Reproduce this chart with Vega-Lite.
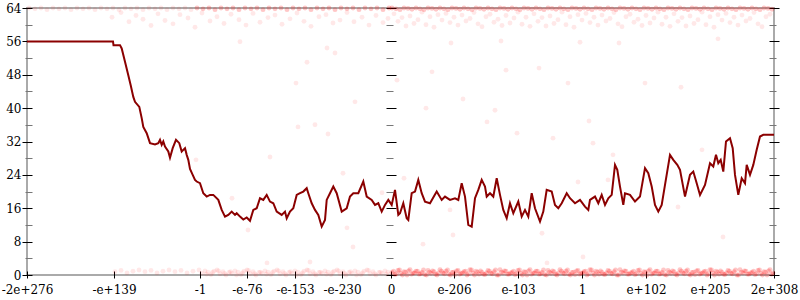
{
  "$schema": "https://vega.github.io/schema/vega-lite/v6.json",
  "width": 747,
  "height": 267,
  "autosize": {"type": "none"},
  "padding": {"left": 27, "top": 8, "right": 26, "bottom": 25},
  "background": "white",
  "config": {
    "view": {"stroke": "#aaaaaa", "strokeWidth": 2},
    "axis": {"labelFont": "DejaVu Serif", "labelFontSize": 12, "labelColor": "#000", "grid": false, "domain": false}
  },
  "datasets": {
    "line": [
      {"x":-364,"y":56},{"x":-278,"y":56},{"x":-277.5,"y":55.1},{"x":-271,"y":55.1},{"x":-269.3,"y":54.3},{"x":-266,"y":51.1},{"x":-262.7,"y":47.9},{"x":-260.3,"y":45.5},{"x":-257.7,"y":42.7},{"x":-256,"y":41.5},{"x":-251.7,"y":40.3},{"x":-249.3,"y":37.6},{"x":-247.7,"y":35.5},{"x":-244.3,"y":34},{"x":-241,"y":31.6},{"x":-236,"y":31.3},{"x":-232.7,"y":31.6},{"x":-231,"y":32.4},{"x":-229.3,"y":31.2},{"x":-227.7,"y":32},{"x":-226,"y":30.8},{"x":-222.7,"y":29.6},{"x":-221,"y":28.1},{"x":-218.3,"y":30.4},{"x":-215,"y":32.4},{"x":-211.7,"y":31.6},{"x":-209.3,"y":29.6},{"x":-207.7,"y":30},{"x":-206,"y":30.4},{"x":-204.3,"y":28.8},{"x":-202.7,"y":27.6},{"x":-201,"y":25.4},{"x":-198.3,"y":24},{"x":-196,"y":22.8},{"x":-194.3,"y":22.4},{"x":-191,"y":22},{"x":-187.7,"y":19.6},{"x":-184.3,"y":18.8},{"x":-181,"y":19.2},{"x":-177.7,"y":19.2},{"x":-172.7,"y":18},{"x":-169.3,"y":15.6},{"x":-166,"y":14},{"x":-162.7,"y":14.4},{"x":-159.3,"y":15.2},{"x":-156,"y":14.4},{"x":-154.3,"y":14.8},{"x":-151,"y":14},{"x":-147.7,"y":13.3},{"x":-144.3,"y":13.8},{"x":-141,"y":13},{"x":-137.7,"y":15.6},{"x":-134.3,"y":16},{"x":-131,"y":18.4},{"x":-127.7,"y":18},{"x":-124.3,"y":19.2},{"x":-121,"y":17.6},{"x":-117.7,"y":17.2},{"x":-114.3,"y":15.2},{"x":-109.3,"y":14.4},{"x":-106,"y":15.2},{"x":-104.3,"y":13.6},{"x":-101,"y":15.2},{"x":-97.7,"y":16},{"x":-94.3,"y":19.2},{"x":-91,"y":19.6},{"x":-87.7,"y":20},{"x":-84.3,"y":20.8},{"x":-82.7,"y":19.6},{"x":-79.3,"y":17.2},{"x":-76,"y":15.6},{"x":-72.7,"y":14.4},{"x":-69.3,"y":11.6},{"x":-66,"y":13.2},{"x":-64.3,"y":18},{"x":-61,"y":19.6},{"x":-57.7,"y":21.2},{"x":-54.3,"y":19.6},{"x":-49.3,"y":15.2},{"x":-44.3,"y":16},{"x":-41,"y":18.8},{"x":-37.7,"y":19.6},{"x":-32.7,"y":19.6},{"x":-27.7,"y":22.4},{"x":-24.3,"y":18.8},{"x":-19.3,"y":18},{"x":-16,"y":16.8},{"x":-12.7,"y":17.2},{"x":-9.3,"y":15.2},{"x":-6,"y":16.8},{"x":-2.7,"y":18},{"x":0.7,"y":16.8},{"x":4,"y":20.4},{"x":7.3,"y":14.4},{"x":9,"y":14.8},{"x":12.3,"y":17.2},{"x":15.7,"y":13.6},{"x":17.3,"y":13.2},{"x":20.7,"y":19.6},{"x":24,"y":20},{"x":27.3,"y":22.8},{"x":30.7,"y":19.6},{"x":34,"y":17.6},{"x":39,"y":17.2},{"x":45.7,"y":20},{"x":50.7,"y":18},{"x":54,"y":18.8},{"x":59,"y":18},{"x":64,"y":18.4},{"x":67.3,"y":18},{"x":70.7,"y":22},{"x":74,"y":18.8},{"x":77.3,"y":12},{"x":80.7,"y":11.6},{"x":84,"y":18.4},{"x":87.3,"y":20.4},{"x":90.7,"y":22.8},{"x":94,"y":21.2},{"x":95.7,"y":18.8},{"x":99,"y":19.6},{"x":102.3,"y":18.8},{"x":105.7,"y":23.2},{"x":109,"y":19.2},{"x":112.3,"y":15.6},{"x":115.7,"y":13.6},{"x":119,"y":17.2},{"x":122.3,"y":14.8},{"x":127.3,"y":17.6},{"x":130.7,"y":14},{"x":134,"y":15.6},{"x":137.3,"y":14},{"x":140.7,"y":19.6},{"x":144,"y":16},{"x":149,"y":12.8},{"x":152.3,"y":15.2},{"x":155.7,"y":20.4},{"x":160.7,"y":20},{"x":164,"y":16.8},{"x":167.3,"y":16},{"x":170.7,"y":17.2},{"x":175.7,"y":19.6},{"x":179,"y":18.4},{"x":184,"y":17.2},{"x":189,"y":18},{"x":194,"y":16.4},{"x":197.3,"y":15.6},{"x":199,"y":18},{"x":204,"y":18.8},{"x":207.3,"y":17.2},{"x":210.7,"y":19.2},{"x":214,"y":16.8},{"x":217.3,"y":18.4},{"x":220.7,"y":19.2},{"x":224,"y":26.4},{"x":226.3,"y":25.2},{"x":229,"y":21.2},{"x":232.3,"y":16.8},{"x":234,"y":19.6},{"x":239,"y":19.2},{"x":244,"y":17.6},{"x":249,"y":18.8},{"x":254,"y":25.6},{"x":257.3,"y":24.4},{"x":260.7,"y":21.2},{"x":264,"y":16.8},{"x":267.3,"y":15.2},{"x":270.7,"y":16.8},{"x":274,"y":21.6},{"x":279,"y":28.8},{"x":282.3,"y":27.6},{"x":286.3,"y":26.4},{"x":289,"y":25.2},{"x":294,"y":18.8},{"x":299,"y":24},{"x":302.3,"y":24.8},{"x":305.7,"y":22},{"x":309,"y":19.2},{"x":314,"y":21.6},{"x":319,"y":26.8},{"x":322.3,"y":26},{"x":325,"y":28.8},{"x":327.3,"y":26.8},{"x":329.7,"y":27.6},{"x":332.3,"y":24.8},{"x":335,"y":32},{"x":339,"y":32.8},{"x":341.7,"y":30.4},{"x":344,"y":24},{"x":347.3,"y":19.2},{"x":350.7,"y":23.2},{"x":354,"y":22},{"x":355.7,"y":26.4},{"x":359,"y":24},{"x":362.3,"y":26.4},{"x":365.7,"y":30},{"x":369,"y":33.2},{"x":372.3,"y":33.6},{"x":383,"y":33.6}
    ],
    "pts": [
      {"x":-362,"y":64},{"x":-356,"y":63.8},{"x":-350,"y":64},{"x":-344,"y":63.6},{"x":-338,"y":64},{"x":-332,"y":63.8},{"x":-326,"y":64},{"x":-320,"y":63.6},{"x":-314,"y":64},{"x":-308,"y":63.8},{"x":-302,"y":64},{"x":-296,"y":63.6},{"x":-290,"y":64},{"x":-284,"y":63.8},{"x":-278,"y":64},{"x":-272,"y":63.6},{"x":-266,"y":64},{"x":-260,"y":63.8},{"x":-254,"y":64},{"x":-248,"y":63.6},{"x":-242,"y":64},{"x":-236,"y":63.8},{"x":-230,"y":64},{"x":-224,"y":63.6},{"x":-218,"y":64},{"x":-212,"y":63.8},{"x":-206,"y":64},{"x":-200,"y":63.6},{"x":-194,"y":64},{"x":-188,"y":63.8},{"x":-182,"y":64},{"x":-176,"y":63.6},{"x":-170,"y":64},{"x":-164,"y":63.8},{"x":-158,"y":64},{"x":-152,"y":63.6},{"x":-146,"y":64},{"x":-140,"y":63.8},{"x":-134,"y":64},{"x":-128,"y":63.6},{"x":-122,"y":64},{"x":-116,"y":63.8},{"x":-110,"y":64},{"x":-104,"y":63.6},{"x":-98,"y":64},{"x":-92,"y":63.8},{"x":-86,"y":64},{"x":-80,"y":63.6},{"x":-74,"y":64},{"x":-68,"y":63.8},{"x":-62,"y":64},{"x":-56,"y":63.6},{"x":-50,"y":64},{"x":-44,"y":63.8},{"x":-38,"y":64},{"x":-32,"y":63.6},{"x":-26,"y":64},{"x":-20,"y":63.8},{"x":-14,"y":64},{"x":-8,"y":63.6},{"x":-2,"y":64},
      {"x":1,"y":64},{"x":5,"y":63.8},{"x":9,"y":63.6},{"x":13,"y":64},{"x":17,"y":63.9},{"x":21,"y":63.7},{"x":25,"y":64},{"x":29,"y":63.8},{"x":33,"y":63.6},{"x":37,"y":64},{"x":41,"y":63.9},{"x":45,"y":63.7},{"x":49,"y":64},{"x":53,"y":63.8},{"x":57,"y":63.6},{"x":61,"y":64},{"x":65,"y":63.9},{"x":69,"y":63.7},{"x":73,"y":64},{"x":77,"y":63.8},{"x":81,"y":63.6},{"x":85,"y":64},{"x":89,"y":63.9},{"x":93,"y":63.7},{"x":97,"y":64},{"x":101,"y":63.8},{"x":105,"y":63.6},{"x":109,"y":64},{"x":113,"y":63.9},{"x":117,"y":63.7},{"x":121,"y":64},{"x":125,"y":63.8},{"x":129,"y":63.6},{"x":133,"y":64},{"x":137,"y":63.9},{"x":141,"y":63.7},{"x":145,"y":64},{"x":149,"y":63.8},{"x":153,"y":63.6},{"x":157,"y":64},{"x":161,"y":63.9},{"x":165,"y":63.7},{"x":169,"y":64},{"x":173,"y":63.8},{"x":177,"y":63.6},{"x":181,"y":64},{"x":185,"y":63.9},{"x":189,"y":63.7},{"x":193,"y":64},{"x":197,"y":63.8},{"x":201,"y":63.6},{"x":205,"y":64},{"x":209,"y":63.9},{"x":213,"y":63.7},{"x":217,"y":64},{"x":221,"y":63.8},{"x":225,"y":63.6},{"x":229,"y":64},{"x":233,"y":63.9},{"x":237,"y":63.7},{"x":241,"y":64},{"x":245,"y":63.8},{"x":249,"y":63.6},{"x":253,"y":64},{"x":257,"y":63.9},{"x":261,"y":63.7},{"x":265,"y":64},{"x":269,"y":63.8},{"x":273,"y":63.6},{"x":277,"y":64},{"x":281,"y":63.9},{"x":285,"y":63.7},{"x":289,"y":64},{"x":293,"y":63.8},{"x":297,"y":63.6},{"x":301,"y":64},{"x":305,"y":63.9},{"x":309,"y":63.7},{"x":313,"y":64},{"x":317,"y":63.8},{"x":321,"y":63.6},{"x":325,"y":64},{"x":329,"y":63.9},{"x":333,"y":63.7},{"x":337,"y":64},{"x":341,"y":63.8},{"x":345,"y":63.6},{"x":349,"y":64},{"x":353,"y":63.9},{"x":357,"y":63.7},{"x":361,"y":64},{"x":365,"y":63.8},{"x":369,"y":63.6},{"x":373,"y":64},{"x":377,"y":63.9},{"x":381,"y":63.7},
      {"x":-279,"y":61.8},{"x":-270,"y":62.9},{"x":-262,"y":60.7},{"x":-255,"y":62.2},{"x":-248,"y":61.3},{"x":-240,"y":59.8},{"x":-233,"y":62.6},{"x":-226,"y":61},{"x":-218,"y":60.2},{"x":-211,"y":62.4},{"x":-203,"y":61.6},{"x":-196,"y":59.4},{"x":-189,"y":62.8},{"x":-181,"y":60.9},{"x":-174,"y":61.9},{"x":-167,"y":60.3},{"x":-160,"y":62.5},{"x":-152,"y":61.2},{"x":-145,"y":59.9},{"x":-138,"y":62.7},{"x":-131,"y":60.6},{"x":-123,"y":61.7},{"x":-116,"y":62.3},{"x":-109,"y":60.1},{"x":-101,"y":61.4},{"x":-94,"y":62.8},{"x":-87,"y":60.8},{"x":-80,"y":59.6},{"x":-72,"y":61.9},{"x":-65,"y":62.4},{"x":-58,"y":60.4},{"x":-51,"y":61.1},{"x":-44,"y":62.9},{"x":-37,"y":60.7},{"x":-29,"y":61.8},{"x":-22,"y":59.9},{"x":-15,"y":62.2},{"x":-8,"y":60.5},{"x":-3,"y":61.5},
      {"x":3,"y":62.6},{"x":7,"y":60.8},{"x":11,"y":61.7},{"x":15,"y":59.7},{"x":19,"y":62.1},{"x":23,"y":60.3},{"x":27,"y":61.2},{"x":31,"y":63},{"x":35,"y":60},{"x":39,"y":61.9},{"x":43,"y":59.4},{"x":47,"y":62.4},{"x":51,"y":61.1},{"x":55,"y":62.7},{"x":59,"y":60.5},{"x":63,"y":61.8},{"x":67,"y":59.9},{"x":71,"y":62.3},{"x":75,"y":60.9},{"x":79,"y":61.5},{"x":83,"y":62.9},{"x":87,"y":60.2},{"x":91,"y":59.5},{"x":95,"y":61.9},{"x":99,"y":62.5},{"x":103,"y":60.6},{"x":107,"y":61.3},{"x":111,"y":59.8},{"x":115,"y":62.2},{"x":119,"y":60.4},{"x":123,"y":61.6},{"x":127,"y":63},{"x":131,"y":60.1},{"x":135,"y":61.8},{"x":139,"y":59.6},{"x":143,"y":62.6},{"x":147,"y":60.8},{"x":151,"y":61.7},{"x":155,"y":59.7},{"x":159,"y":62.1},{"x":163,"y":60.3},{"x":167,"y":61.2},{"x":171,"y":63},{"x":175,"y":60},{"x":179,"y":61.9},{"x":183,"y":59.4},{"x":187,"y":62.4},{"x":191,"y":61.1},{"x":195,"y":62.7},{"x":199,"y":60.5},{"x":203,"y":61.8},{"x":207,"y":59.9},{"x":211,"y":62.3},{"x":215,"y":60.9},{"x":219,"y":61.5},{"x":223,"y":62.9},{"x":227,"y":60.2},{"x":231,"y":59.5},{"x":235,"y":61.9},{"x":239,"y":62.5},{"x":243,"y":60.6},{"x":247,"y":61.3},{"x":251,"y":59.8},{"x":255,"y":62.2},{"x":259,"y":60.4},{"x":263,"y":61.6},{"x":267,"y":63},{"x":271,"y":60.1},{"x":275,"y":61.8},{"x":279,"y":59.6},{"x":283,"y":62.6},{"x":287,"y":60.8},{"x":291,"y":61.7},{"x":295,"y":59.7},{"x":299,"y":62.1},{"x":303,"y":60.3},{"x":307,"y":61.2},{"x":311,"y":63},{"x":315,"y":60},{"x":319,"y":61.9},{"x":323,"y":59.4},{"x":327,"y":62.4},{"x":331,"y":61.1},{"x":335,"y":62.7},{"x":339,"y":60.5},{"x":343,"y":61.8},{"x":347,"y":59.9},{"x":351,"y":62.3},{"x":355,"y":60.9},{"x":359,"y":61.5},{"x":363,"y":62.9},{"x":367,"y":60.2},{"x":371,"y":59.5},{"x":375,"y":61.9},{"x":379,"y":62.5},
      {"x":-276,"y":0.8},{"x":-270,"y":1.1},{"x":-264,"y":0.5},{"x":-258,"y":0.9},{"x":-252,"y":1.2},{"x":-246,"y":0.8},{"x":-240,"y":1.1},{"x":-234,"y":0.5},{"x":-228,"y":0.9},{"x":-222,"y":1.2},{"x":-216,"y":0.8},{"x":-210,"y":1.1},{"x":-204,"y":0.5},{"x":-198,"y":0.9},{"x":-192,"y":1.2},
      {"x":-189,"y":0.4},{"x":-186,"y":1},{"x":-183,"y":0.7},{"x":-180,"y":0.1},{"x":-177,"y":0.9},{"x":-174,"y":1.2},{"x":-171,"y":0.3},{"x":-168,"y":0.8},{"x":-165,"y":0},{"x":-162,"y":0.6},{"x":-159,"y":0.4},{"x":-156,"y":1},{"x":-153,"y":0.7},{"x":-150,"y":0.1},{"x":-147,"y":0.9},{"x":-144,"y":1.2},{"x":-141,"y":0.3},{"x":-138,"y":0.8},{"x":-135,"y":0},{"x":-132,"y":0.6},{"x":-129,"y":0.4},{"x":-126,"y":1},{"x":-123,"y":0.7},{"x":-120,"y":0.1},{"x":-117,"y":0.9},{"x":-114,"y":1.2},{"x":-111,"y":0.3},{"x":-108,"y":0.8},{"x":-105,"y":0},{"x":-102,"y":0.6},{"x":-99,"y":0.4},{"x":-96,"y":1},{"x":-93,"y":0.7},{"x":-90,"y":0.1},{"x":-87,"y":0.9},{"x":-84,"y":1.2},{"x":-81,"y":0.3},{"x":-78,"y":0.8},{"x":-75,"y":0},{"x":-72,"y":0.6},{"x":-69,"y":0.4},{"x":-66,"y":1},{"x":-63,"y":0.7},{"x":-60,"y":0.1},{"x":-57,"y":0.9},{"x":-54,"y":1.2},{"x":-51,"y":0.3},{"x":-48,"y":0.8},{"x":-45,"y":0},{"x":-42,"y":0.6},{"x":-39,"y":0.4},{"x":-36,"y":1},{"x":-33,"y":0.7},{"x":-30,"y":0.1},{"x":-27,"y":0.9},{"x":-24,"y":1.2},{"x":-21,"y":0.3},{"x":-18,"y":0.8},{"x":-15,"y":0},{"x":-12,"y":0.6},{"x":-9,"y":0.4},{"x":-6,"y":1},{"x":-3,"y":0.7},
      {"x":-184.5,"y":0.2},{"x":-178.5,"y":0.6},{"x":-172.5,"y":1},{"x":-166.5,"y":0.4},{"x":-160.5,"y":0.8},{"x":-154.5,"y":0},{"x":-148.5,"y":0.5},{"x":-142.5,"y":1.1},{"x":-136.5,"y":0.3},{"x":-130.5,"y":0.7},{"x":-124.5,"y":0.2},{"x":-118.5,"y":0.6},{"x":-112.5,"y":1},{"x":-106.5,"y":0.4},{"x":-100.5,"y":0.8},{"x":-94.5,"y":0},{"x":-88.5,"y":0.5},{"x":-82.5,"y":1.1},{"x":-76.5,"y":0.3},{"x":-70.5,"y":0.7},{"x":-64.5,"y":0.2},{"x":-58.5,"y":0.6},{"x":-52.5,"y":1},{"x":-46.5,"y":0.4},{"x":-40.5,"y":0.8},{"x":-34.5,"y":0},{"x":-28.5,"y":0.5},{"x":-22.5,"y":1.1},{"x":-16.5,"y":0.3},{"x":-10.5,"y":0.7},{"x":-4.5,"y":0.2},
      {"x":1,"y":0.6},{"x":4,"y":0.1},{"x":7,"y":1.1},{"x":10,"y":0.4},{"x":13,"y":0.8},{"x":16,"y":0},{"x":19,"y":1.3},{"x":22,"y":0.5},{"x":25,"y":0.9},{"x":28,"y":0.2},{"x":31,"y":0.6},{"x":34,"y":0.1},{"x":37,"y":1.1},{"x":40,"y":0.4},{"x":43,"y":0.8},{"x":46,"y":0},{"x":49,"y":1.3},{"x":52,"y":0.5},{"x":55,"y":0.9},{"x":58,"y":0.2},{"x":61,"y":0.6},{"x":64,"y":0.1},{"x":67,"y":1.1},{"x":70,"y":0.4},{"x":73,"y":0.8},{"x":76,"y":0},{"x":79,"y":1.3},{"x":82,"y":0.5},{"x":85,"y":0.9},{"x":88,"y":0.2},{"x":91,"y":0.6},{"x":94,"y":0.1},{"x":97,"y":1.1},{"x":100,"y":0.4},{"x":103,"y":0.8},{"x":106,"y":0},{"x":109,"y":1.3},{"x":112,"y":0.5},{"x":115,"y":0.9},{"x":118,"y":0.2},{"x":121,"y":0.6},{"x":124,"y":0.1},{"x":127,"y":1.1},{"x":130,"y":0.4},{"x":133,"y":0.8},{"x":136,"y":0},{"x":139,"y":1.3},{"x":142,"y":0.5},{"x":145,"y":0.9},{"x":148,"y":0.2},{"x":151,"y":0.6},{"x":154,"y":0.1},{"x":157,"y":1.1},{"x":160,"y":0.4},{"x":163,"y":0.8},{"x":166,"y":0},{"x":169,"y":1.3},{"x":172,"y":0.5},{"x":175,"y":0.9},{"x":178,"y":0.2},{"x":181,"y":0.6},{"x":184,"y":0.1},{"x":187,"y":1.1},{"x":190,"y":0.4},{"x":193,"y":0.8},{"x":196,"y":0},{"x":199,"y":1.3},{"x":202,"y":0.5},{"x":205,"y":0.9},{"x":208,"y":0.2},{"x":211,"y":0.6},{"x":214,"y":0.1},{"x":217,"y":1.1},{"x":220,"y":0.4},{"x":223,"y":0.8},{"x":226,"y":0},{"x":229,"y":1.3},{"x":232,"y":0.5},{"x":235,"y":0.9},{"x":238,"y":0.2},{"x":241,"y":0.6},{"x":244,"y":0.1},{"x":247,"y":1.1},{"x":250,"y":0.4},{"x":253,"y":0.8},{"x":256,"y":0},{"x":259,"y":1.3},{"x":262,"y":0.5},{"x":265,"y":0.9},{"x":268,"y":0.2},{"x":271,"y":0.6},{"x":274,"y":0.1},{"x":277,"y":1.1},{"x":280,"y":0.4},{"x":283,"y":0.8},{"x":286,"y":0},{"x":289,"y":1.3},{"x":292,"y":0.5},{"x":295,"y":0.9},{"x":298,"y":0.2},{"x":301,"y":0.6},{"x":304,"y":0.1},{"x":307,"y":1.1},{"x":310,"y":0.4},{"x":313,"y":0.8},{"x":316,"y":0},{"x":319,"y":1.3},{"x":322,"y":0.5},{"x":325,"y":0.9},{"x":328,"y":0.2},{"x":331,"y":0.6},{"x":334,"y":0.1},{"x":337,"y":1.1},{"x":340,"y":0.4},{"x":343,"y":0.8},{"x":346,"y":0},{"x":349,"y":1.3},{"x":352,"y":0.5},{"x":355,"y":0.9},{"x":358,"y":0.2},{"x":361,"y":0.6},{"x":364,"y":0.1},{"x":367,"y":1.1},{"x":370,"y":0.4},{"x":373,"y":0.8},{"x":376,"y":0},{"x":379,"y":1.3},{"x":382,"y":0.5},
      {"x":2.5,"y":0.9},{"x":5.5,"y":0.3},{"x":8.5,"y":1.2},{"x":11.5,"y":0},{"x":14.5,"y":0.7},{"x":17.5,"y":1},{"x":20.5,"y":0.2},{"x":23.5,"y":0.5},{"x":26.5,"y":0.9},{"x":29.5,"y":0.3},{"x":32.5,"y":1.2},{"x":35.5,"y":0},{"x":38.5,"y":0.7},{"x":41.5,"y":1},{"x":44.5,"y":0.2},{"x":47.5,"y":0.5},{"x":50.5,"y":0.9},{"x":53.5,"y":0.3},{"x":56.5,"y":1.2},{"x":59.5,"y":0},{"x":62.5,"y":0.7},{"x":65.5,"y":1},{"x":68.5,"y":0.2},{"x":71.5,"y":0.5},{"x":74.5,"y":0.9},{"x":77.5,"y":0.3},{"x":80.5,"y":1.2},{"x":83.5,"y":0},{"x":86.5,"y":0.7},{"x":89.5,"y":1},{"x":92.5,"y":0.2},{"x":95.5,"y":0.5},{"x":98.5,"y":0.9},{"x":101.5,"y":0.3},{"x":104.5,"y":1.2},{"x":107.5,"y":0},{"x":110.5,"y":0.7},{"x":113.5,"y":1},{"x":116.5,"y":0.2},{"x":119.5,"y":0.5},{"x":122.5,"y":0.9},{"x":125.5,"y":0.3},{"x":128.5,"y":1.2},{"x":131.5,"y":0},{"x":134.5,"y":0.7},{"x":137.5,"y":1},{"x":140.5,"y":0.2},{"x":143.5,"y":0.5},{"x":146.5,"y":0.9},{"x":149.5,"y":0.3},{"x":152.5,"y":1.2},{"x":155.5,"y":0},{"x":158.5,"y":0.7},{"x":161.5,"y":1},{"x":164.5,"y":0.2},{"x":167.5,"y":0.5},{"x":170.5,"y":0.9},{"x":173.5,"y":0.3},{"x":176.5,"y":1.2},{"x":179.5,"y":0},{"x":182.5,"y":0.7},{"x":185.5,"y":1},{"x":188.5,"y":0.2},{"x":191.5,"y":0.5},{"x":194.5,"y":0.9},{"x":197.5,"y":0.3},{"x":200.5,"y":1.2},{"x":203.5,"y":0},{"x":206.5,"y":0.7},{"x":209.5,"y":1},{"x":212.5,"y":0.2},{"x":215.5,"y":0.5},{"x":218.5,"y":0.9},{"x":221.5,"y":0.3},{"x":224.5,"y":1.2},{"x":227.5,"y":0},{"x":230.5,"y":0.7},{"x":233.5,"y":1},{"x":236.5,"y":0.2},{"x":239.5,"y":0.5},{"x":242.5,"y":0.9},{"x":245.5,"y":0.3},{"x":248.5,"y":1.2},{"x":251.5,"y":0},{"x":254.5,"y":0.7},{"x":257.5,"y":1},{"x":260.5,"y":0.2},{"x":263.5,"y":0.5},{"x":266.5,"y":0.9},{"x":269.5,"y":0.3},{"x":272.5,"y":1.2},{"x":275.5,"y":0},{"x":278.5,"y":0.7},{"x":281.5,"y":1},{"x":284.5,"y":0.2},{"x":287.5,"y":0.5},{"x":290.5,"y":0.9},{"x":293.5,"y":0.3},{"x":296.5,"y":1.2},{"x":299.5,"y":0},{"x":302.5,"y":0.7},{"x":305.5,"y":1},{"x":308.5,"y":0.2},{"x":311.5,"y":0.5},{"x":314.5,"y":0.9},{"x":317.5,"y":0.3},{"x":320.5,"y":1.2},{"x":323.5,"y":0},{"x":326.5,"y":0.7},{"x":329.5,"y":1},{"x":332.5,"y":0.2},{"x":335.5,"y":0.5},{"x":338.5,"y":0.9},{"x":341.5,"y":0.3},{"x":344.5,"y":1.2},{"x":347.5,"y":0},{"x":350.5,"y":0.7},{"x":353.5,"y":1},{"x":356.5,"y":0.2},{"x":359.5,"y":0.5},{"x":362.5,"y":0.9},{"x":365.5,"y":0.3},{"x":368.5,"y":1.2},{"x":371.5,"y":0},{"x":374.5,"y":0.7},{"x":377.5,"y":1},{"x":380.5,"y":0.2},
      {"x":-151,"y":55.9},{"x":-84,"y":51},{"x":-95,"y":46},{"x":-36,"y":41.5},{"x":-93,"y":35.5},{"x":-76,"y":36},{"x":-63,"y":33.8},{"x":-56,"y":53.2},{"x":-64,"y":54.4},{"x":6,"y":46.7},{"x":41,"y":48.7},{"x":115,"y":49.1},{"x":148,"y":49.6},{"x":177,"y":46},{"x":254,"y":46},{"x":290,"y":45},{"x":72,"y":42.2},{"x":35,"y":40},{"x":104,"y":39.5},{"x":96,"y":36.7},{"x":198,"y":36.9},{"x":126,"y":34},{"x":162,"y":32.8},{"x":202,"y":31.6},{"x":60,"y":55.6},{"x":110,"y":56.1},{"x":189,"y":55.8},{"x":228,"y":55.6},{"x":327,"y":56.6},{"x":-195,"y":27.6},{"x":-121,"y":28.3},{"x":-159,"y":18.4},{"x":-143,"y":10.8},{"x":-48,"y":24.4},{"x":-44,"y":11.3},{"x":-38,"y":6.7},{"x":-81,"y":3.1},{"x":-124,"y":2.9},{"x":-9,"y":19.7},{"x":13,"y":23.2},{"x":59,"y":15.6},{"x":62,"y":9.6},{"x":32,"y":7.4},{"x":151,"y":10},{"x":192,"y":4.3},{"x":156,"y":2.9},{"x":187,"y":22.3},{"x":222,"y":28.8},{"x":332,"y":9.1},{"x":311,"y":30},{"x":217,"y":22.8},{"x":287,"y":16.3}
    ]
  },
  "resolve": {"axis": {"y": "independent"}},
  "layer": [
    {
      "data": {"name": "pts"},
      "mark": {"type": "circle", "color": "#ff0000", "opacity": 0.09, "size": 24},
      "encoding": {
        "x": {
          "field": "x", "type": "quantitative",
          "scale": {"domain": [-364, 383], "nice": false, "zero": false},
          "axis": {
            "orient": "bottom", "title": null, "offset": -4, "tickSize": 7, "tickColor": "#000", "labelPadding": 6,
            "values": [-364, -277, -191, -144, -96, -49, 0, 63, 127, 191, 255, 319, 383],
            "labelExpr": "datum.value == -364 ? '-2e+276' : datum.value == -277 ? '-e+139' : datum.value == -191 ? '-1' : datum.value == -144 ? '-e-76' : datum.value == -96 ? '-e-153' : datum.value == -49 ? '-e-230' : datum.value == 0 ? '0' : datum.value == 63 ? 'e-206' : datum.value == 127 ? 'e-103' : datum.value == 191 ? '1' : datum.value == 255 ? 'e+102' : datum.value == 319 ? 'e+205' : '2e+308'",
            "labelOverlap": false, "labelBound": false, "labelFlush": false
          }
        },
        "y": {
          "field": "y", "type": "quantitative",
          "scale": {"domain": [0, 64], "nice": false, "zero": false},
          "axis": {
            "orient": "left", "title": null, "offset": -5, "labelPadding": 1,
            "values": [0, 4, 8, 12, 16, 20, 24, 28, 32, 36, 40, 44, 48, 52, 56, 60, 64],
            "labelExpr": "datum.value % 8 == 0 ? datum.label : ''",
            "tickSize": {"condition": {"test": "datum.value % 8 == 0", "value": 10}, "value": 7},
            "tickColor": {"condition": {"test": "datum.value % 8 == 0", "value": "#000"}, "value": "#777"},
            "labelOverlap": false, "labelBound": false, "labelFlush": false
          }
        }
      }
    },
    {
      "data": {"name": "pts"},
      "transform": [{"filter": "(datum.y < 2 && datum.x > 0) || (datum.y > 63.5 && datum.x > -200)"}],
      "mark": {"type": "circle", "color": "#ff0000", "opacity": 0.14, "size": 24},
      "encoding": {
        "x": {"field": "x", "type": "quantitative"},
        "y": {"field": "y", "type": "quantitative", "axis": null}
      }
    },
    {
      "mark": {"type": "rule", "color": "#aaaaaa", "strokeWidth": 2},
      "encoding": {
        "x": {"datum": 0, "type": "quantitative"},
        "y": {
          "datum": 0, "type": "quantitative",
          "axis": {
            "orient": "right", "title": null, "offset": -388, "labels": false,
            "values": [0, 4, 8, 12, 16, 20, 24, 28, 32, 36, 40, 44, 48, 52, 56, 60, 64],
            "tickSize": {"condition": {"test": "datum.value % 8 == 0", "value": 10}, "value": 7},
            "tickColor": {"condition": {"test": "datum.value % 8 == 0", "value": "#000"}, "value": "#777"}
          }
        },
        "y2": {"datum": 64}
      }
    },
    {
      "data": {"name": "line"},
      "mark": {"type": "line", "color": "#8b0000", "strokeWidth": 2},
      "encoding": {
        "x": {"field": "x", "type": "quantitative"},
        "y": {
          "field": "y", "type": "quantitative",
          "axis": {
            "orient": "right", "title": null, "offset": -5, "labels": false,
            "values": [0, 4, 8, 12, 16, 20, 24, 28, 32, 36, 40, 44, 48, 52, 56, 60, 64],
            "tickSize": {"condition": {"test": "datum.value % 8 == 0", "value": 10}, "value": 7},
            "tickColor": {"condition": {"test": "datum.value % 8 == 0", "value": "#000"}, "value": "#777"}
          }
        }
      }
    }
  ]
}
